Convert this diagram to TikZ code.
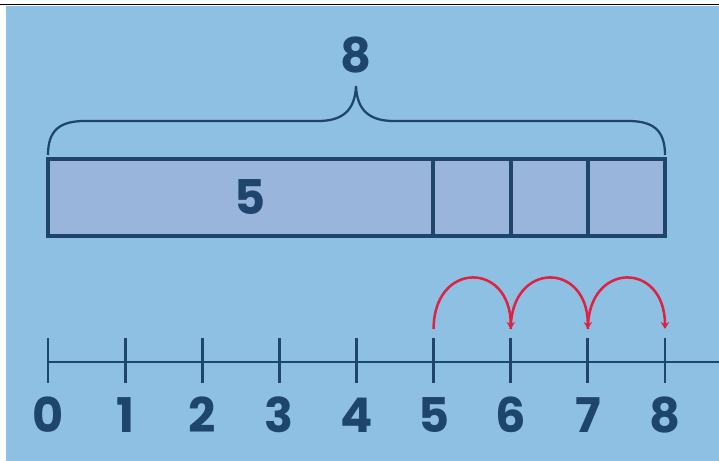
\documentclass[tikz,border=0pt]{standalone}
\usepackage{fontspec}
\newfontfamily\digitfont{Poppins}
\usetikzlibrary{arrows.meta}

\definecolor{skyblue}{RGB}{141,192,227}
\definecolor{barblue}{RGB}{153,181,219}
\definecolor{navy}{RGB}{30,70,108}
\definecolor{hopred}{RGB}{222,34,66}

\begin{document}
\begin{tikzpicture}[
        x=0.025cm, y=-0.025cm,
        >={Stealth[length=5pt, width=6pt]},
        font=\digitfont\bfseries\fontsize{34}{34}\selectfont,
        num/.style={text=navy, inner sep=0pt},
        tick/.style={draw=navy, line width=2pt},
        bar/.style={draw=navy, line width=2.2pt, fill=barblue},
        brace/.style={draw=navy, line width=1.6pt},
        hop/.style={->, draw=hopred, line width=1.8pt}
    ]
    \useasboundingbox (0,0) rectangle (719,461);

    % backdrop with the screenshot edge
    \fill[white] (0,0) rectangle (719,461);
    \fill[skyblue] (6,6) rectangle (719,461);
    \draw[black, line width=1.2pt] (0,4.5) -- (719,4.5);

    % bar model: 5 and three ones
    \draw[bar] (48,159) rectangle (665,236);
    \foreach \x in {433,511,588} \draw[bar] (\x,159) -- (\x,236);
    \node[num] (part) at (250,197) {5};

    % brace over the bar, total on top
    \draw[brace] (48,155) .. controls (48,130) and (60,121) .. (85,121) -- (318,121)
        .. controls (343,121) and (355,110) .. (356,86)
        .. controls (357,110) and (369,121) .. (394,121) -- (628,121)
        .. controls (653,121) and (665,130) .. (665,155);
    \node[num] (total) at (356,55) {8};

    % number line
    \draw[tick] (48,362) -- (719,362);
    \foreach \n in {0,...,8} {
        \coordinate (t\n) at ({48+77.125*\n},338);
        \coordinate (h\n) at ({48+77.125*\n},329);
        \draw[tick] (t\n) -- ++(0,45);
        \node[num] (n\n) at ({48+77.125*\n},415) {\n};
    }

    % hops of one from 5 to 8
    \foreach \a/\b in {5/6,6/7,7/8}
        \draw[hop] (h\a) .. controls +(0,-68) and +(0,-68) .. (h\b);

\end{tikzpicture}
\end{document}
